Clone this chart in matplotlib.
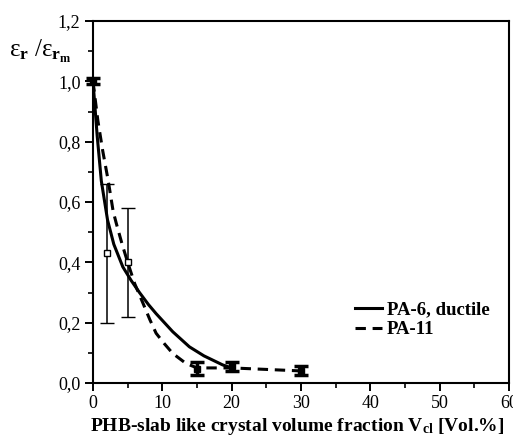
import matplotlib
matplotlib.use("Agg")
import matplotlib.pyplot as plt

# ---- data ----
fit_pa6_x = [0, 0.6, 1.2, 2.1, 3.0, 4.3, 5.5, 6.7, 8.0, 9.1, 11.5, 13.9, 16.0, 18.7, 20.0]
fit_pa6_y = [1.0, 0.82, 0.67, 0.54, 0.46, 0.385, 0.34, 0.30, 0.26, 0.23, 0.17, 0.12, 0.09, 0.06, 0.05]

fit_pa11_x = [0, 0.7, 1.4, 2.2, 2.9, 3.35, 4.2, 5.0, 6.0, 7.2, 8.2, 9.1, 10.3, 11.5, 13.4, 15.0, 17.0, 20.0, 25.0, 30.0]
fit_pa11_y = [1.0, 0.87, 0.77, 0.67, 0.57, 0.53, 0.46, 0.40, 0.33, 0.265, 0.21, 0.165, 0.13, 0.098, 0.065, 0.05, 0.05, 0.05, 0.045, 0.04]

open_x = [2, 5]
open_y = [0.43, 0.40]
open_err = [0.23, 0.18]

filled_x = [0, 15, 20, 30]
filled_y = [1.0, 0.048, 0.055, 0.04]
filled_err = [0.01, 0.02, 0.015, 0.015]

xticks = [0, 10, 20, 30, 40, 50, 60]
xtick_labels = ['0', '10', '20', '30', '40', '50', '60']
yticks = [0.0, 0.2, 0.4, 0.6, 0.8, 1.0, 1.2]
ytick_labels = ['0,0', '0,2', '0,4', '0,6', '0,8', '1,0', '1,2']

legend_labels = ['PA-6, ductile', 'PA-11']

# ---- style ----
plt.rcParams['font.family'] = ['Liberation Serif', 'DejaVu Serif']
plt.rcParams['mathtext.fontset'] = 'custom'
plt.rcParams['mathtext.rm'] = 'Liberation Serif'
plt.rcParams['mathtext.bf'] = 'Liberation Serif:bold'
plt.rcParams['mathtext.it'] = 'Liberation Serif:italic'

fig = plt.figure(figsize=(5.13, 4.37), dpi=100)
ax = fig.add_axes([93 / 513, 1 - 383 / 437, (509 - 93) / 513, (383 - 21) / 437])

ax.plot(fit_pa6_x, fit_pa6_y, color='black', lw=2.2, ls='-', label=legend_labels[0])
ax.plot(fit_pa11_x, fit_pa11_y, color='black', lw=2.2, ls=(0, (3.4, 2.2)), label=legend_labels[1])

ax.errorbar(open_x, open_y, yerr=open_err, fmt='s', ms=4, mfc='white', mec='black',
            mew=1.0, ecolor='black', elinewidth=1.1, capsize=5, capthick=1.1, clip_on=False)
ax.errorbar(filled_x, filled_y, yerr=filled_err, fmt='s', ms=5, mfc='black', mec='black',
            ecolor='black', elinewidth=2.5, capsize=5, capthick=2.5, clip_on=False)

ax.set_xlim(0, 60)
ax.set_ylim(0, 1.2)
ax.set_xticks(xticks)
ax.set_xticklabels(xtick_labels)
ax.set_yticks(yticks)
ax.set_yticklabels(ytick_labels)
ax.set_xticks([5, 15, 25, 35, 45, 55], minor=True)
ax.set_yticks([0.1, 0.3, 0.5, 0.7, 0.9, 1.1], minor=True)
ax.tick_params(which='major', direction='out', length=6, width=1.4, labelsize=13, pad=3)
ax.tick_params(which='minor', direction='out', length=3.5, width=1.2)
ax.tick_params(top=False, right=False)
for s in ax.spines.values():
    s.set_linewidth(1.5)

ax.set_xlabel('PHB-slab like crystal volume fraction V$_{\\mathbf{cl}}$ [Vol.%]',
              fontsize=14, fontweight='bold')
ax.xaxis.set_label_coords(0.49, -0.092)

ax.text(-0.05, 1.1, 'ε$_{\\mathbf{r}}$ /ε$_{\\mathbf{r}_{\\mathbf{m}}}$', transform=ax.get_yaxis_transform(),
        ha='right', va='center', fontsize=18)

leg = ax.legend(loc='upper left', bbox_to_anchor=(0.63, 0.226), frameon=False,
                prop={'family': 'Liberation Serif', 'weight': 'bold', 'size': 13.5},
                handlelength=1.45, handletextpad=0.25, labelspacing=0.15, borderpad=0,
                borderaxespad=0)

fig.savefig('out.png', dpi=100)
